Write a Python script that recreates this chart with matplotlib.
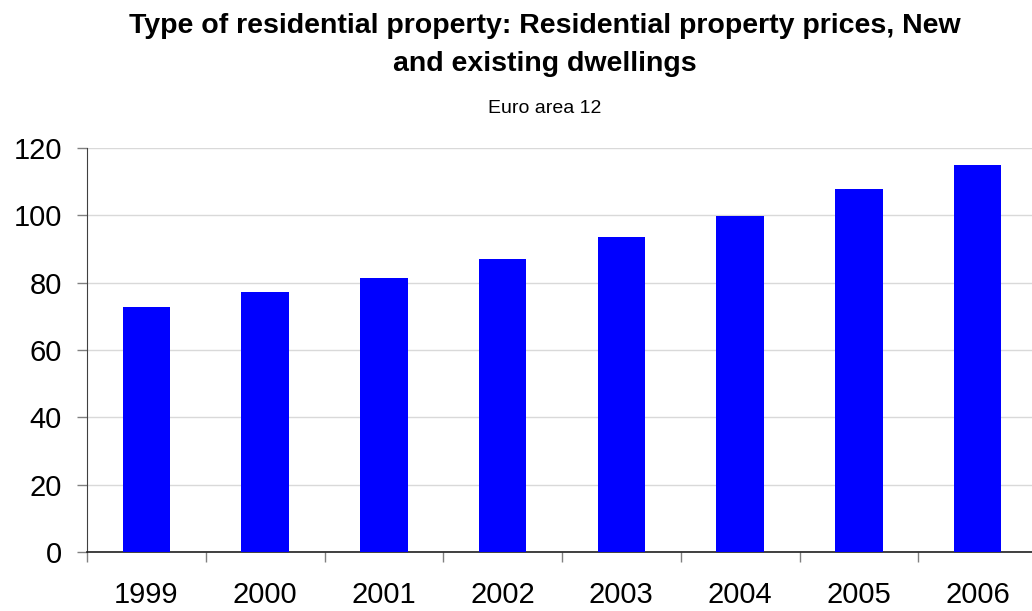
import matplotlib.pyplot as plt
import numpy as np

plt.rcParams['font.family'] = ['Liberation Sans', 'DejaVu Sans']

years = ["1999", "2000", "2001", "2002", "2003", "2004", "2005", "2006"]
prices = [72.8, 77.2, 81.4, 87.0, 93.6, 99.8, 107.8, 114.9]

fig = plt.figure(figsize=(10.32, 6.11), dpi=100)
# plot area runs past the right edge of the picture, as in the original
ax = fig.add_axes([87 / 1032, (611 - 552) / 611, 950 / 1032, 404 / 611])

x = np.arange(len(years))
ax.bar(x, prices, width=0.4, color="#0000ff", zorder=3)

ax.set_xlim(-0.5, len(years) - 0.5)
ax.set_ylim(0, 120)
ax.set_yticks(range(0, 121, 20))
ax.set_xticks(x)
ax.set_xticklabels(years)
ax.set_xticks(np.arange(-0.5, len(years)), minor=True)
ax.tick_params(axis="x", which="major", length=0, pad=21, labelsize=21)
ax.tick_params(axis="x", which="minor", length=7, width=1, color="#808080", direction="out")
ax.tick_params(axis="y", length=7, width=1, color="#808080", pad=11, labelsize=21)

ax.grid(axis="y", color="#d9d9d9", linewidth=1, zorder=0)
for s in ["top", "right"]:
    ax.spines[s].set_visible(False)
ax.spines["left"].set_color("#404040")
ax.spines["bottom"].set_color("#202020")
ax.spines["bottom"].set_linewidth(1.2)

fig.text(0.528, 0.978, "Type of residential property: Residential property prices, New\nand existing dwellings",
         ha="center", va="top", fontsize=20.5, fontweight="bold", linespacing=1.6)
fig.text(0.528, 0.822, "Euro area 12", ha="center", va="center", fontsize=14)

fig.savefig("out.png", dpi=100)
